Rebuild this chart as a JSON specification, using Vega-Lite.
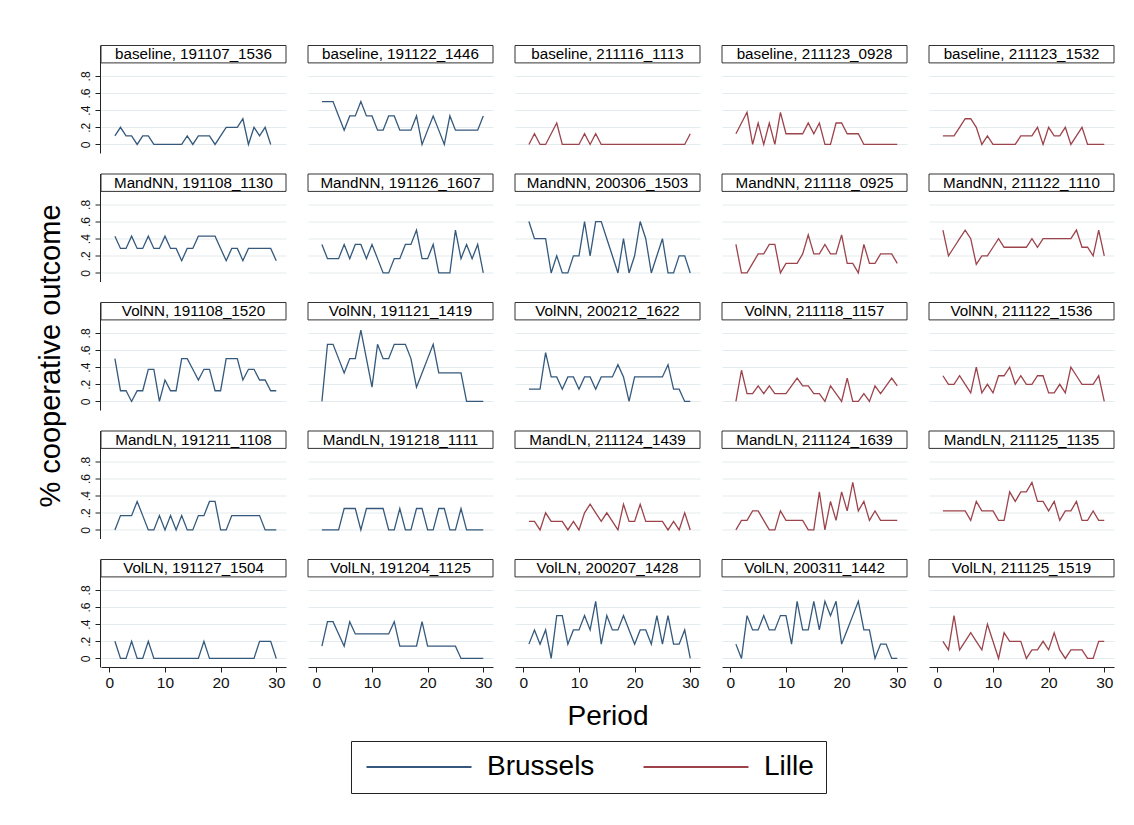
{
  "$schema": "https://vega.github.io/schema/vega-lite/v6.json",
  "padding": {"left": 36, "top": 45, "right": 10, "bottom": 10},
  "background": "white",
  "datasets": {
    "sessions": [
      {"sess": "191107_1536", "trt": "baseline", "city": "Brussels"},
      {"sess": "191122_1446", "trt": "baseline", "city": "Brussels"},
      {"sess": "211116_1113", "trt": "baseline", "city": "Lille"},
      {"sess": "211123_0928", "trt": "baseline", "city": "Lille"},
      {"sess": "211123_1532", "trt": "baseline", "city": "Lille"},
      {"sess": "191108_1130", "trt": "MandNN", "city": "Brussels"},
      {"sess": "191126_1607", "trt": "MandNN", "city": "Brussels"},
      {"sess": "200306_1503", "trt": "MandNN", "city": "Brussels"},
      {"sess": "211118_0925", "trt": "MandNN", "city": "Lille"},
      {"sess": "211122_1110", "trt": "MandNN", "city": "Lille"},
      {"sess": "191108_1520", "trt": "VolNN", "city": "Brussels"},
      {"sess": "191121_1419", "trt": "VolNN", "city": "Brussels"},
      {"sess": "200212_1622", "trt": "VolNN", "city": "Brussels"},
      {"sess": "211118_1157", "trt": "VolNN", "city": "Lille"},
      {"sess": "211122_1536", "trt": "VolNN", "city": "Lille"},
      {"sess": "191211_1108", "trt": "MandLN", "city": "Brussels"},
      {"sess": "191218_1111", "trt": "MandLN", "city": "Brussels"},
      {"sess": "211124_1439", "trt": "MandLN", "city": "Lille"},
      {"sess": "211124_1639", "trt": "MandLN", "city": "Lille"},
      {"sess": "211125_1135", "trt": "MandLN", "city": "Lille"},
      {"sess": "191127_1504", "trt": "VolLN", "city": "Brussels"},
      {"sess": "191204_1125", "trt": "VolLN", "city": "Brussels"},
      {"sess": "200207_1428", "trt": "VolLN", "city": "Brussels"},
      {"sess": "200311_1442", "trt": "VolLN", "city": "Brussels"},
      {"sess": "211125_1519", "trt": "VolLN", "city": "Lille"}
    ],
    "obs": [
      {"sess":"191107_1536","t":1,"v":0.1},{"sess":"191107_1536","t":2,"v":0.2},{"sess":"191107_1536","t":3,"v":0.1},{"sess":"191107_1536","t":4,"v":0.1},{"sess":"191107_1536","t":5,"v":0},{"sess":"191107_1536","t":6,"v":0.1},{"sess":"191107_1536","t":7,"v":0.1},{"sess":"191107_1536","t":8,"v":0},{"sess":"191107_1536","t":9,"v":0},{"sess":"191107_1536","t":10,"v":0},
      {"sess":"191107_1536","t":11,"v":0},{"sess":"191107_1536","t":12,"v":0},{"sess":"191107_1536","t":13,"v":0},{"sess":"191107_1536","t":14,"v":0.1},{"sess":"191107_1536","t":15,"v":0},{"sess":"191107_1536","t":16,"v":0.1},{"sess":"191107_1536","t":17,"v":0.1},{"sess":"191107_1536","t":18,"v":0.1},{"sess":"191107_1536","t":19,"v":0},{"sess":"191107_1536","t":20,"v":0.1},
      {"sess":"191107_1536","t":21,"v":0.2},{"sess":"191107_1536","t":22,"v":0.2},{"sess":"191107_1536","t":23,"v":0.2},{"sess":"191107_1536","t":24,"v":0.3},{"sess":"191107_1536","t":25,"v":0},{"sess":"191107_1536","t":26,"v":0.2},{"sess":"191107_1536","t":27,"v":0.1},{"sess":"191107_1536","t":28,"v":0.2},{"sess":"191107_1536","t":29,"v":0},

      {"sess":"191122_1446","t":1,"v":0.5},{"sess":"191122_1446","t":2,"v":0.5},{"sess":"191122_1446","t":3,"v":0.5},{"sess":"191122_1446","t":4,"v":0.333},{"sess":"191122_1446","t":5,"v":0.167},{"sess":"191122_1446","t":6,"v":0.333},{"sess":"191122_1446","t":7,"v":0.333},{"sess":"191122_1446","t":8,"v":0.5},{"sess":"191122_1446","t":9,"v":0.333},{"sess":"191122_1446","t":10,"v":0.333},
      {"sess":"191122_1446","t":11,"v":0.167},{"sess":"191122_1446","t":12,"v":0.167},{"sess":"191122_1446","t":13,"v":0.333},{"sess":"191122_1446","t":14,"v":0.333},{"sess":"191122_1446","t":15,"v":0.167},{"sess":"191122_1446","t":16,"v":0.167},{"sess":"191122_1446","t":17,"v":0.167},{"sess":"191122_1446","t":18,"v":0.333},{"sess":"191122_1446","t":19,"v":0},{"sess":"191122_1446","t":20,"v":0.167},
      {"sess":"191122_1446","t":21,"v":0.333},{"sess":"191122_1446","t":22,"v":0.167},{"sess":"191122_1446","t":23,"v":0},{"sess":"191122_1446","t":24,"v":0.333},{"sess":"191122_1446","t":25,"v":0.167},{"sess":"191122_1446","t":26,"v":0.167},{"sess":"191122_1446","t":27,"v":0.167},{"sess":"191122_1446","t":28,"v":0.167},{"sess":"191122_1446","t":29,"v":0.167},{"sess":"191122_1446","t":30,"v":0.333},

      {"sess":"211116_1113","t":1,"v":0},{"sess":"211116_1113","t":2,"v":0.125},{"sess":"211116_1113","t":3,"v":0},{"sess":"211116_1113","t":4,"v":0},{"sess":"211116_1113","t":5,"v":0.125},{"sess":"211116_1113","t":6,"v":0.25},{"sess":"211116_1113","t":7,"v":0},{"sess":"211116_1113","t":8,"v":0},{"sess":"211116_1113","t":9,"v":0},{"sess":"211116_1113","t":10,"v":0},
      {"sess":"211116_1113","t":11,"v":0.125},{"sess":"211116_1113","t":12,"v":0},{"sess":"211116_1113","t":13,"v":0.125},{"sess":"211116_1113","t":14,"v":0},{"sess":"211116_1113","t":15,"v":0},{"sess":"211116_1113","t":16,"v":0},{"sess":"211116_1113","t":17,"v":0},{"sess":"211116_1113","t":18,"v":0},{"sess":"211116_1113","t":19,"v":0},{"sess":"211116_1113","t":20,"v":0},
      {"sess":"211116_1113","t":21,"v":0},{"sess":"211116_1113","t":22,"v":0},{"sess":"211116_1113","t":23,"v":0},{"sess":"211116_1113","t":24,"v":0},{"sess":"211116_1113","t":25,"v":0},{"sess":"211116_1113","t":26,"v":0},{"sess":"211116_1113","t":27,"v":0},{"sess":"211116_1113","t":28,"v":0},{"sess":"211116_1113","t":29,"v":0},{"sess":"211116_1113","t":30,"v":0.125},

      {"sess":"211123_0928","t":1,"v":0.125},{"sess":"211123_0928","t":2,"v":0.25},{"sess":"211123_0928","t":3,"v":0.375},{"sess":"211123_0928","t":4,"v":0},{"sess":"211123_0928","t":5,"v":0.25},{"sess":"211123_0928","t":6,"v":0},{"sess":"211123_0928","t":7,"v":0.25},{"sess":"211123_0928","t":8,"v":0},{"sess":"211123_0928","t":9,"v":0.375},{"sess":"211123_0928","t":10,"v":0.125},
      {"sess":"211123_0928","t":11,"v":0.125},{"sess":"211123_0928","t":12,"v":0.125},{"sess":"211123_0928","t":13,"v":0.125},{"sess":"211123_0928","t":14,"v":0.25},{"sess":"211123_0928","t":15,"v":0.125},{"sess":"211123_0928","t":16,"v":0.25},{"sess":"211123_0928","t":17,"v":0},{"sess":"211123_0928","t":18,"v":0},{"sess":"211123_0928","t":19,"v":0.25},{"sess":"211123_0928","t":20,"v":0.25},
      {"sess":"211123_0928","t":21,"v":0.125},{"sess":"211123_0928","t":22,"v":0.125},{"sess":"211123_0928","t":23,"v":0.125},{"sess":"211123_0928","t":24,"v":0},{"sess":"211123_0928","t":25,"v":0},{"sess":"211123_0928","t":26,"v":0},{"sess":"211123_0928","t":27,"v":0},{"sess":"211123_0928","t":28,"v":0},{"sess":"211123_0928","t":29,"v":0},{"sess":"211123_0928","t":30,"v":0},

      {"sess":"211123_1532","t":1,"v":0.1},{"sess":"211123_1532","t":2,"v":0.1},{"sess":"211123_1532","t":3,"v":0.1},{"sess":"211123_1532","t":4,"v":0.2},{"sess":"211123_1532","t":5,"v":0.3},{"sess":"211123_1532","t":6,"v":0.3},{"sess":"211123_1532","t":7,"v":0.2},{"sess":"211123_1532","t":8,"v":0},{"sess":"211123_1532","t":9,"v":0.1},{"sess":"211123_1532","t":10,"v":0},
      {"sess":"211123_1532","t":11,"v":0},{"sess":"211123_1532","t":12,"v":0},{"sess":"211123_1532","t":13,"v":0},{"sess":"211123_1532","t":14,"v":0},{"sess":"211123_1532","t":15,"v":0.1},{"sess":"211123_1532","t":16,"v":0.1},{"sess":"211123_1532","t":17,"v":0.1},{"sess":"211123_1532","t":18,"v":0.2},{"sess":"211123_1532","t":19,"v":0},{"sess":"211123_1532","t":20,"v":0.2},
      {"sess":"211123_1532","t":21,"v":0.1},{"sess":"211123_1532","t":22,"v":0.1},{"sess":"211123_1532","t":23,"v":0.2},{"sess":"211123_1532","t":24,"v":0},{"sess":"211123_1532","t":25,"v":0.1},{"sess":"211123_1532","t":26,"v":0.2},{"sess":"211123_1532","t":27,"v":0},{"sess":"211123_1532","t":28,"v":0},{"sess":"211123_1532","t":29,"v":0},{"sess":"211123_1532","t":30,"v":0},

      {"sess":"191108_1130","t":1,"v":0.429},{"sess":"191108_1130","t":2,"v":0.286},{"sess":"191108_1130","t":3,"v":0.286},{"sess":"191108_1130","t":4,"v":0.429},{"sess":"191108_1130","t":5,"v":0.286},{"sess":"191108_1130","t":6,"v":0.286},{"sess":"191108_1130","t":7,"v":0.429},{"sess":"191108_1130","t":8,"v":0.286},{"sess":"191108_1130","t":9,"v":0.286},{"sess":"191108_1130","t":10,"v":0.429},
      {"sess":"191108_1130","t":11,"v":0.286},{"sess":"191108_1130","t":12,"v":0.286},{"sess":"191108_1130","t":13,"v":0.143},{"sess":"191108_1130","t":14,"v":0.286},{"sess":"191108_1130","t":15,"v":0.286},{"sess":"191108_1130","t":16,"v":0.429},{"sess":"191108_1130","t":17,"v":0.429},{"sess":"191108_1130","t":18,"v":0.429},{"sess":"191108_1130","t":19,"v":0.429},{"sess":"191108_1130","t":20,"v":0.286},
      {"sess":"191108_1130","t":21,"v":0.143},{"sess":"191108_1130","t":22,"v":0.286},{"sess":"191108_1130","t":23,"v":0.286},{"sess":"191108_1130","t":24,"v":0.143},{"sess":"191108_1130","t":25,"v":0.286},{"sess":"191108_1130","t":26,"v":0.286},{"sess":"191108_1130","t":27,"v":0.286},{"sess":"191108_1130","t":28,"v":0.286},{"sess":"191108_1130","t":29,"v":0.286},{"sess":"191108_1130","t":30,"v":0.143},

      {"sess":"191126_1607","t":1,"v":0.333},{"sess":"191126_1607","t":2,"v":0.167},{"sess":"191126_1607","t":3,"v":0.167},{"sess":"191126_1607","t":4,"v":0.167},{"sess":"191126_1607","t":5,"v":0.333},{"sess":"191126_1607","t":6,"v":0.167},{"sess":"191126_1607","t":7,"v":0.333},{"sess":"191126_1607","t":8,"v":0.333},{"sess":"191126_1607","t":9,"v":0.167},{"sess":"191126_1607","t":10,"v":0.333},
      {"sess":"191126_1607","t":11,"v":0.167},{"sess":"191126_1607","t":12,"v":0},{"sess":"191126_1607","t":13,"v":0},{"sess":"191126_1607","t":14,"v":0.167},{"sess":"191126_1607","t":15,"v":0.167},{"sess":"191126_1607","t":16,"v":0.333},{"sess":"191126_1607","t":17,"v":0.333},{"sess":"191126_1607","t":18,"v":0.5},{"sess":"191126_1607","t":19,"v":0.167},{"sess":"191126_1607","t":20,"v":0.167},
      {"sess":"191126_1607","t":21,"v":0.333},{"sess":"191126_1607","t":22,"v":0},{"sess":"191126_1607","t":23,"v":0},{"sess":"191126_1607","t":24,"v":0},{"sess":"191126_1607","t":25,"v":0.5},{"sess":"191126_1607","t":26,"v":0.167},{"sess":"191126_1607","t":27,"v":0.333},{"sess":"191126_1607","t":28,"v":0.167},{"sess":"191126_1607","t":29,"v":0.333},{"sess":"191126_1607","t":30,"v":0},

      {"sess":"200306_1503","t":1,"v":0.6},{"sess":"200306_1503","t":2,"v":0.4},{"sess":"200306_1503","t":3,"v":0.4},{"sess":"200306_1503","t":4,"v":0.4},{"sess":"200306_1503","t":5,"v":0},{"sess":"200306_1503","t":6,"v":0.2},{"sess":"200306_1503","t":7,"v":0},{"sess":"200306_1503","t":8,"v":0},{"sess":"200306_1503","t":9,"v":0.2},{"sess":"200306_1503","t":10,"v":0.2},
      {"sess":"200306_1503","t":11,"v":0.6},{"sess":"200306_1503","t":12,"v":0.2},{"sess":"200306_1503","t":13,"v":0.6},{"sess":"200306_1503","t":14,"v":0.6},{"sess":"200306_1503","t":15,"v":0.4},{"sess":"200306_1503","t":16,"v":0.2},{"sess":"200306_1503","t":17,"v":0},{"sess":"200306_1503","t":18,"v":0.4},{"sess":"200306_1503","t":19,"v":0},{"sess":"200306_1503","t":20,"v":0.2},
      {"sess":"200306_1503","t":21,"v":0.6},{"sess":"200306_1503","t":22,"v":0.4},{"sess":"200306_1503","t":23,"v":0},{"sess":"200306_1503","t":24,"v":0.2},{"sess":"200306_1503","t":25,"v":0.4},{"sess":"200306_1503","t":26,"v":0},{"sess":"200306_1503","t":27,"v":0},{"sess":"200306_1503","t":28,"v":0.2},{"sess":"200306_1503","t":29,"v":0.2},{"sess":"200306_1503","t":30,"v":0},

      {"sess":"211118_0925","t":1,"v":0.333},{"sess":"211118_0925","t":2,"v":0},{"sess":"211118_0925","t":3,"v":0},{"sess":"211118_0925","t":4,"v":0.111},{"sess":"211118_0925","t":5,"v":0.222},{"sess":"211118_0925","t":6,"v":0.222},{"sess":"211118_0925","t":7,"v":0.333},{"sess":"211118_0925","t":8,"v":0.333},{"sess":"211118_0925","t":9,"v":0},{"sess":"211118_0925","t":10,"v":0.111},
      {"sess":"211118_0925","t":11,"v":0.111},{"sess":"211118_0925","t":12,"v":0.111},{"sess":"211118_0925","t":13,"v":0.222},{"sess":"211118_0925","t":14,"v":0.444},{"sess":"211118_0925","t":15,"v":0.222},{"sess":"211118_0925","t":16,"v":0.222},{"sess":"211118_0925","t":17,"v":0.333},{"sess":"211118_0925","t":18,"v":0.222},{"sess":"211118_0925","t":19,"v":0.222},{"sess":"211118_0925","t":20,"v":0.444},
      {"sess":"211118_0925","t":21,"v":0.111},{"sess":"211118_0925","t":22,"v":0.111},{"sess":"211118_0925","t":23,"v":0},{"sess":"211118_0925","t":24,"v":0.333},{"sess":"211118_0925","t":25,"v":0.111},{"sess":"211118_0925","t":26,"v":0.111},{"sess":"211118_0925","t":27,"v":0.222},{"sess":"211118_0925","t":28,"v":0.222},{"sess":"211118_0925","t":29,"v":0.222},{"sess":"211118_0925","t":30,"v":0.111},

      {"sess":"211122_1110","t":1,"v":0.5},{"sess":"211122_1110","t":2,"v":0.2},{"sess":"211122_1110","t":3,"v":0.3},{"sess":"211122_1110","t":4,"v":0.4},{"sess":"211122_1110","t":5,"v":0.5},{"sess":"211122_1110","t":6,"v":0.4},{"sess":"211122_1110","t":7,"v":0.1},{"sess":"211122_1110","t":8,"v":0.2},{"sess":"211122_1110","t":9,"v":0.2},{"sess":"211122_1110","t":10,"v":0.3},
      {"sess":"211122_1110","t":11,"v":0.4},{"sess":"211122_1110","t":12,"v":0.3},{"sess":"211122_1110","t":13,"v":0.3},{"sess":"211122_1110","t":14,"v":0.3},{"sess":"211122_1110","t":15,"v":0.3},{"sess":"211122_1110","t":16,"v":0.3},{"sess":"211122_1110","t":17,"v":0.4},{"sess":"211122_1110","t":18,"v":0.3},{"sess":"211122_1110","t":19,"v":0.4},{"sess":"211122_1110","t":20,"v":0.4},
      {"sess":"211122_1110","t":21,"v":0.4},{"sess":"211122_1110","t":22,"v":0.4},{"sess":"211122_1110","t":23,"v":0.4},{"sess":"211122_1110","t":24,"v":0.4},{"sess":"211122_1110","t":25,"v":0.5},{"sess":"211122_1110","t":26,"v":0.3},{"sess":"211122_1110","t":27,"v":0.3},{"sess":"211122_1110","t":28,"v":0.2},{"sess":"211122_1110","t":29,"v":0.5},{"sess":"211122_1110","t":30,"v":0.2},

      {"sess":"191108_1520","t":1,"v":0.5},{"sess":"191108_1520","t":2,"v":0.125},{"sess":"191108_1520","t":3,"v":0.125},{"sess":"191108_1520","t":4,"v":0},{"sess":"191108_1520","t":5,"v":0.125},{"sess":"191108_1520","t":6,"v":0.125},{"sess":"191108_1520","t":7,"v":0.375},{"sess":"191108_1520","t":8,"v":0.375},{"sess":"191108_1520","t":9,"v":0},{"sess":"191108_1520","t":10,"v":0.25},
      {"sess":"191108_1520","t":11,"v":0.125},{"sess":"191108_1520","t":12,"v":0.125},{"sess":"191108_1520","t":13,"v":0.5},{"sess":"191108_1520","t":14,"v":0.5},{"sess":"191108_1520","t":15,"v":0.375},{"sess":"191108_1520","t":16,"v":0.25},{"sess":"191108_1520","t":17,"v":0.375},{"sess":"191108_1520","t":18,"v":0.375},{"sess":"191108_1520","t":19,"v":0.125},{"sess":"191108_1520","t":20,"v":0.125},
      {"sess":"191108_1520","t":21,"v":0.5},{"sess":"191108_1520","t":22,"v":0.5},{"sess":"191108_1520","t":23,"v":0.5},{"sess":"191108_1520","t":24,"v":0.25},{"sess":"191108_1520","t":25,"v":0.375},{"sess":"191108_1520","t":26,"v":0.375},{"sess":"191108_1520","t":27,"v":0.25},{"sess":"191108_1520","t":28,"v":0.25},{"sess":"191108_1520","t":29,"v":0.125},{"sess":"191108_1520","t":30,"v":0.125},

      {"sess":"191121_1419","t":1,"v":0},{"sess":"191121_1419","t":2,"v":0.667},{"sess":"191121_1419","t":3,"v":0.667},{"sess":"191121_1419","t":4,"v":0.5},{"sess":"191121_1419","t":5,"v":0.333},{"sess":"191121_1419","t":6,"v":0.5},{"sess":"191121_1419","t":7,"v":0.5},{"sess":"191121_1419","t":8,"v":0.833},{"sess":"191121_1419","t":9,"v":0.5},{"sess":"191121_1419","t":10,"v":0.167},
      {"sess":"191121_1419","t":11,"v":0.667},{"sess":"191121_1419","t":12,"v":0.5},{"sess":"191121_1419","t":13,"v":0.5},{"sess":"191121_1419","t":14,"v":0.667},{"sess":"191121_1419","t":15,"v":0.667},{"sess":"191121_1419","t":16,"v":0.667},{"sess":"191121_1419","t":17,"v":0.5},{"sess":"191121_1419","t":18,"v":0.167},{"sess":"191121_1419","t":19,"v":0.333},{"sess":"191121_1419","t":20,"v":0.5},
      {"sess":"191121_1419","t":21,"v":0.667},{"sess":"191121_1419","t":22,"v":0.333},{"sess":"191121_1419","t":23,"v":0.333},{"sess":"191121_1419","t":24,"v":0.333},{"sess":"191121_1419","t":25,"v":0.333},{"sess":"191121_1419","t":26,"v":0.333},{"sess":"191121_1419","t":27,"v":0},{"sess":"191121_1419","t":28,"v":0},{"sess":"191121_1419","t":29,"v":0},{"sess":"191121_1419","t":30,"v":0},

      {"sess":"200212_1622","t":1,"v":0.143},{"sess":"200212_1622","t":2,"v":0.143},{"sess":"200212_1622","t":3,"v":0.143},{"sess":"200212_1622","t":4,"v":0.571},{"sess":"200212_1622","t":5,"v":0.286},{"sess":"200212_1622","t":6,"v":0.286},{"sess":"200212_1622","t":7,"v":0.143},{"sess":"200212_1622","t":8,"v":0.286},{"sess":"200212_1622","t":9,"v":0.286},{"sess":"200212_1622","t":10,"v":0.143},
      {"sess":"200212_1622","t":11,"v":0.286},{"sess":"200212_1622","t":12,"v":0.286},{"sess":"200212_1622","t":13,"v":0.143},{"sess":"200212_1622","t":14,"v":0.286},{"sess":"200212_1622","t":15,"v":0.286},{"sess":"200212_1622","t":16,"v":0.286},{"sess":"200212_1622","t":17,"v":0.429},{"sess":"200212_1622","t":18,"v":0.286},{"sess":"200212_1622","t":19,"v":0},{"sess":"200212_1622","t":20,"v":0.286},
      {"sess":"200212_1622","t":21,"v":0.286},{"sess":"200212_1622","t":22,"v":0.286},{"sess":"200212_1622","t":23,"v":0.286},{"sess":"200212_1622","t":24,"v":0.286},{"sess":"200212_1622","t":25,"v":0.286},{"sess":"200212_1622","t":26,"v":0.429},{"sess":"200212_1622","t":27,"v":0.143},{"sess":"200212_1622","t":28,"v":0.143},{"sess":"200212_1622","t":29,"v":0},{"sess":"200212_1622","t":30,"v":0},

      {"sess":"211118_1157","t":1,"v":0},{"sess":"211118_1157","t":2,"v":0.364},{"sess":"211118_1157","t":3,"v":0.091},{"sess":"211118_1157","t":4,"v":0.091},{"sess":"211118_1157","t":5,"v":0.182},{"sess":"211118_1157","t":6,"v":0.091},{"sess":"211118_1157","t":7,"v":0.182},{"sess":"211118_1157","t":8,"v":0.091},{"sess":"211118_1157","t":9,"v":0.091},{"sess":"211118_1157","t":10,"v":0.091},
      {"sess":"211118_1157","t":11,"v":0.182},{"sess":"211118_1157","t":12,"v":0.273},{"sess":"211118_1157","t":13,"v":0.182},{"sess":"211118_1157","t":14,"v":0.182},{"sess":"211118_1157","t":15,"v":0.091},{"sess":"211118_1157","t":16,"v":0.091},{"sess":"211118_1157","t":17,"v":0},{"sess":"211118_1157","t":18,"v":0.182},{"sess":"211118_1157","t":19,"v":0.091},{"sess":"211118_1157","t":20,"v":0},
      {"sess":"211118_1157","t":21,"v":0.273},{"sess":"211118_1157","t":22,"v":0},{"sess":"211118_1157","t":23,"v":0},{"sess":"211118_1157","t":24,"v":0.091},{"sess":"211118_1157","t":25,"v":0},{"sess":"211118_1157","t":26,"v":0.182},{"sess":"211118_1157","t":27,"v":0.091},{"sess":"211118_1157","t":28,"v":0.182},{"sess":"211118_1157","t":29,"v":0.273},{"sess":"211118_1157","t":30,"v":0.182},

      {"sess":"211122_1536","t":1,"v":0.3},{"sess":"211122_1536","t":2,"v":0.2},{"sess":"211122_1536","t":3,"v":0.2},{"sess":"211122_1536","t":4,"v":0.3},{"sess":"211122_1536","t":5,"v":0.2},{"sess":"211122_1536","t":6,"v":0.1},{"sess":"211122_1536","t":7,"v":0.4},{"sess":"211122_1536","t":8,"v":0.1},{"sess":"211122_1536","t":9,"v":0.2},{"sess":"211122_1536","t":10,"v":0.1},
      {"sess":"211122_1536","t":11,"v":0.3},{"sess":"211122_1536","t":12,"v":0.3},{"sess":"211122_1536","t":13,"v":0.4},{"sess":"211122_1536","t":14,"v":0.2},{"sess":"211122_1536","t":15,"v":0.3},{"sess":"211122_1536","t":16,"v":0.2},{"sess":"211122_1536","t":17,"v":0.2},{"sess":"211122_1536","t":18,"v":0.3},{"sess":"211122_1536","t":19,"v":0.3},{"sess":"211122_1536","t":20,"v":0.1},
      {"sess":"211122_1536","t":21,"v":0.1},{"sess":"211122_1536","t":22,"v":0.2},{"sess":"211122_1536","t":23,"v":0.1},{"sess":"211122_1536","t":24,"v":0.4},{"sess":"211122_1536","t":25,"v":0.3},{"sess":"211122_1536","t":26,"v":0.2},{"sess":"211122_1536","t":27,"v":0.2},{"sess":"211122_1536","t":28,"v":0.2},{"sess":"211122_1536","t":29,"v":0.3},{"sess":"211122_1536","t":30,"v":0},

      {"sess":"191211_1108","t":1,"v":0},{"sess":"191211_1108","t":2,"v":0.167},{"sess":"191211_1108","t":3,"v":0.167},{"sess":"191211_1108","t":4,"v":0.167},{"sess":"191211_1108","t":5,"v":0.333},{"sess":"191211_1108","t":6,"v":0.167},{"sess":"191211_1108","t":7,"v":0},{"sess":"191211_1108","t":8,"v":0},{"sess":"191211_1108","t":9,"v":0.167},{"sess":"191211_1108","t":10,"v":0},
      {"sess":"191211_1108","t":11,"v":0.167},{"sess":"191211_1108","t":12,"v":0},{"sess":"191211_1108","t":13,"v":0.167},{"sess":"191211_1108","t":14,"v":0},{"sess":"191211_1108","t":15,"v":0},{"sess":"191211_1108","t":16,"v":0.167},{"sess":"191211_1108","t":17,"v":0.167},{"sess":"191211_1108","t":18,"v":0.333},{"sess":"191211_1108","t":19,"v":0.333},{"sess":"191211_1108","t":20,"v":0},
      {"sess":"191211_1108","t":21,"v":0},{"sess":"191211_1108","t":22,"v":0.167},{"sess":"191211_1108","t":23,"v":0.167},{"sess":"191211_1108","t":24,"v":0.167},{"sess":"191211_1108","t":25,"v":0.167},{"sess":"191211_1108","t":26,"v":0.167},{"sess":"191211_1108","t":27,"v":0.167},{"sess":"191211_1108","t":28,"v":0},{"sess":"191211_1108","t":29,"v":0},{"sess":"191211_1108","t":30,"v":0},

      {"sess":"191218_1111","t":1,"v":0},{"sess":"191218_1111","t":2,"v":0},{"sess":"191218_1111","t":3,"v":0},{"sess":"191218_1111","t":4,"v":0},{"sess":"191218_1111","t":5,"v":0.25},{"sess":"191218_1111","t":6,"v":0.25},{"sess":"191218_1111","t":7,"v":0.25},{"sess":"191218_1111","t":8,"v":0},{"sess":"191218_1111","t":9,"v":0.25},{"sess":"191218_1111","t":10,"v":0.25},
      {"sess":"191218_1111","t":11,"v":0.25},{"sess":"191218_1111","t":12,"v":0.25},{"sess":"191218_1111","t":13,"v":0},{"sess":"191218_1111","t":14,"v":0},{"sess":"191218_1111","t":15,"v":0.25},{"sess":"191218_1111","t":16,"v":0},{"sess":"191218_1111","t":17,"v":0},{"sess":"191218_1111","t":18,"v":0.25},{"sess":"191218_1111","t":19,"v":0.25},{"sess":"191218_1111","t":20,"v":0},
      {"sess":"191218_1111","t":21,"v":0},{"sess":"191218_1111","t":22,"v":0.25},{"sess":"191218_1111","t":23,"v":0.25},{"sess":"191218_1111","t":24,"v":0},{"sess":"191218_1111","t":25,"v":0},{"sess":"191218_1111","t":26,"v":0.25},{"sess":"191218_1111","t":27,"v":0},{"sess":"191218_1111","t":28,"v":0},{"sess":"191218_1111","t":29,"v":0},{"sess":"191218_1111","t":30,"v":0},

      {"sess":"211124_1439","t":1,"v":0.1},{"sess":"211124_1439","t":2,"v":0.1},{"sess":"211124_1439","t":3,"v":0},{"sess":"211124_1439","t":4,"v":0.2},{"sess":"211124_1439","t":5,"v":0.1},{"sess":"211124_1439","t":6,"v":0.1},{"sess":"211124_1439","t":7,"v":0.1},{"sess":"211124_1439","t":8,"v":0},{"sess":"211124_1439","t":9,"v":0.1},{"sess":"211124_1439","t":10,"v":0},
      {"sess":"211124_1439","t":11,"v":0.2},{"sess":"211124_1439","t":12,"v":0.3},{"sess":"211124_1439","t":13,"v":0.2},{"sess":"211124_1439","t":14,"v":0.1},{"sess":"211124_1439","t":15,"v":0.2},{"sess":"211124_1439","t":16,"v":0.1},{"sess":"211124_1439","t":17,"v":0},{"sess":"211124_1439","t":18,"v":0.3},{"sess":"211124_1439","t":19,"v":0.1},{"sess":"211124_1439","t":20,"v":0.1},
      {"sess":"211124_1439","t":21,"v":0.3},{"sess":"211124_1439","t":22,"v":0.1},{"sess":"211124_1439","t":23,"v":0.1},{"sess":"211124_1439","t":24,"v":0.1},{"sess":"211124_1439","t":25,"v":0.1},{"sess":"211124_1439","t":26,"v":0},{"sess":"211124_1439","t":27,"v":0.1},{"sess":"211124_1439","t":28,"v":0},{"sess":"211124_1439","t":29,"v":0.2},{"sess":"211124_1439","t":30,"v":0},

      {"sess":"211124_1639","t":1,"v":0},{"sess":"211124_1639","t":2,"v":0.111},{"sess":"211124_1639","t":3,"v":0.111},{"sess":"211124_1639","t":4,"v":0.222},{"sess":"211124_1639","t":5,"v":0.222},{"sess":"211124_1639","t":6,"v":0.111},{"sess":"211124_1639","t":7,"v":0},{"sess":"211124_1639","t":8,"v":0},{"sess":"211124_1639","t":9,"v":0.222},{"sess":"211124_1639","t":10,"v":0.111},
      {"sess":"211124_1639","t":11,"v":0.111},{"sess":"211124_1639","t":12,"v":0.111},{"sess":"211124_1639","t":13,"v":0.111},{"sess":"211124_1639","t":14,"v":0},{"sess":"211124_1639","t":15,"v":0},{"sess":"211124_1639","t":16,"v":0.444},{"sess":"211124_1639","t":17,"v":0},{"sess":"211124_1639","t":18,"v":0.333},{"sess":"211124_1639","t":19,"v":0.111},{"sess":"211124_1639","t":20,"v":0.444},
      {"sess":"211124_1639","t":21,"v":0.222},{"sess":"211124_1639","t":22,"v":0.556},{"sess":"211124_1639","t":23,"v":0.222},{"sess":"211124_1639","t":24,"v":0.333},{"sess":"211124_1639","t":25,"v":0.111},{"sess":"211124_1639","t":26,"v":0.222},{"sess":"211124_1639","t":27,"v":0.111},{"sess":"211124_1639","t":28,"v":0.111},{"sess":"211124_1639","t":29,"v":0.111},{"sess":"211124_1639","t":30,"v":0.111},

      {"sess":"211125_1135","t":1,"v":0.222},{"sess":"211125_1135","t":2,"v":0.222},{"sess":"211125_1135","t":3,"v":0.222},{"sess":"211125_1135","t":4,"v":0.222},{"sess":"211125_1135","t":5,"v":0.222},{"sess":"211125_1135","t":6,"v":0.111},{"sess":"211125_1135","t":7,"v":0.333},{"sess":"211125_1135","t":8,"v":0.222},{"sess":"211125_1135","t":9,"v":0.222},{"sess":"211125_1135","t":10,"v":0.222},
      {"sess":"211125_1135","t":11,"v":0.111},{"sess":"211125_1135","t":12,"v":0.111},{"sess":"211125_1135","t":13,"v":0.444},{"sess":"211125_1135","t":14,"v":0.333},{"sess":"211125_1135","t":15,"v":0.444},{"sess":"211125_1135","t":16,"v":0.444},{"sess":"211125_1135","t":17,"v":0.556},{"sess":"211125_1135","t":18,"v":0.333},{"sess":"211125_1135","t":19,"v":0.333},{"sess":"211125_1135","t":20,"v":0.222},
      {"sess":"211125_1135","t":21,"v":0.333},{"sess":"211125_1135","t":22,"v":0.111},{"sess":"211125_1135","t":23,"v":0.222},{"sess":"211125_1135","t":24,"v":0.222},{"sess":"211125_1135","t":25,"v":0.333},{"sess":"211125_1135","t":26,"v":0.111},{"sess":"211125_1135","t":27,"v":0.111},{"sess":"211125_1135","t":28,"v":0.222},{"sess":"211125_1135","t":29,"v":0.111},{"sess":"211125_1135","t":30,"v":0.111},

      {"sess":"191127_1504","t":1,"v":0.2},{"sess":"191127_1504","t":2,"v":0},{"sess":"191127_1504","t":3,"v":0},{"sess":"191127_1504","t":4,"v":0.2},{"sess":"191127_1504","t":5,"v":0},{"sess":"191127_1504","t":6,"v":0},{"sess":"191127_1504","t":7,"v":0.2},{"sess":"191127_1504","t":8,"v":0},{"sess":"191127_1504","t":9,"v":0},{"sess":"191127_1504","t":10,"v":0},
      {"sess":"191127_1504","t":11,"v":0},{"sess":"191127_1504","t":12,"v":0},{"sess":"191127_1504","t":13,"v":0},{"sess":"191127_1504","t":14,"v":0},{"sess":"191127_1504","t":15,"v":0},{"sess":"191127_1504","t":16,"v":0},{"sess":"191127_1504","t":17,"v":0.2},{"sess":"191127_1504","t":18,"v":0},{"sess":"191127_1504","t":19,"v":0},{"sess":"191127_1504","t":20,"v":0},
      {"sess":"191127_1504","t":21,"v":0},{"sess":"191127_1504","t":22,"v":0},{"sess":"191127_1504","t":23,"v":0},{"sess":"191127_1504","t":24,"v":0},{"sess":"191127_1504","t":25,"v":0},{"sess":"191127_1504","t":26,"v":0},{"sess":"191127_1504","t":27,"v":0.2},{"sess":"191127_1504","t":28,"v":0.2},{"sess":"191127_1504","t":29,"v":0.2},{"sess":"191127_1504","t":30,"v":0},

      {"sess":"191204_1125","t":1,"v":0.143},{"sess":"191204_1125","t":2,"v":0.429},{"sess":"191204_1125","t":3,"v":0.429},{"sess":"191204_1125","t":4,"v":0.286},{"sess":"191204_1125","t":5,"v":0.143},{"sess":"191204_1125","t":6,"v":0.429},{"sess":"191204_1125","t":7,"v":0.286},{"sess":"191204_1125","t":8,"v":0.286},{"sess":"191204_1125","t":9,"v":0.286},{"sess":"191204_1125","t":10,"v":0.286},
      {"sess":"191204_1125","t":11,"v":0.286},{"sess":"191204_1125","t":12,"v":0.286},{"sess":"191204_1125","t":13,"v":0.286},{"sess":"191204_1125","t":14,"v":0.429},{"sess":"191204_1125","t":15,"v":0.143},{"sess":"191204_1125","t":16,"v":0.143},{"sess":"191204_1125","t":17,"v":0.143},{"sess":"191204_1125","t":18,"v":0.143},{"sess":"191204_1125","t":19,"v":0.429},{"sess":"191204_1125","t":20,"v":0.143},
      {"sess":"191204_1125","t":21,"v":0.143},{"sess":"191204_1125","t":22,"v":0.143},{"sess":"191204_1125","t":23,"v":0.143},{"sess":"191204_1125","t":24,"v":0.143},{"sess":"191204_1125","t":25,"v":0.143},{"sess":"191204_1125","t":26,"v":0},{"sess":"191204_1125","t":27,"v":0},{"sess":"191204_1125","t":28,"v":0},{"sess":"191204_1125","t":29,"v":0},{"sess":"191204_1125","t":30,"v":0},

      {"sess":"200207_1428","t":1,"v":0.167},{"sess":"200207_1428","t":2,"v":0.333},{"sess":"200207_1428","t":3,"v":0.167},{"sess":"200207_1428","t":4,"v":0.333},{"sess":"200207_1428","t":5,"v":0},{"sess":"200207_1428","t":6,"v":0.5},{"sess":"200207_1428","t":7,"v":0.5},{"sess":"200207_1428","t":8,"v":0.167},{"sess":"200207_1428","t":9,"v":0.333},{"sess":"200207_1428","t":10,"v":0.333},
      {"sess":"200207_1428","t":11,"v":0.5},{"sess":"200207_1428","t":12,"v":0.333},{"sess":"200207_1428","t":13,"v":0.667},{"sess":"200207_1428","t":14,"v":0.167},{"sess":"200207_1428","t":15,"v":0.5},{"sess":"200207_1428","t":16,"v":0.333},{"sess":"200207_1428","t":17,"v":0.333},{"sess":"200207_1428","t":18,"v":0.5},{"sess":"200207_1428","t":19,"v":0.333},{"sess":"200207_1428","t":20,"v":0.167},
      {"sess":"200207_1428","t":21,"v":0.333},{"sess":"200207_1428","t":22,"v":0.333},{"sess":"200207_1428","t":23,"v":0.167},{"sess":"200207_1428","t":24,"v":0.5},{"sess":"200207_1428","t":25,"v":0.167},{"sess":"200207_1428","t":26,"v":0.5},{"sess":"200207_1428","t":27,"v":0.167},{"sess":"200207_1428","t":28,"v":0.167},{"sess":"200207_1428","t":29,"v":0.333},{"sess":"200207_1428","t":30,"v":0},

      {"sess":"200311_1442","t":1,"v":0.167},{"sess":"200311_1442","t":2,"v":0},{"sess":"200311_1442","t":3,"v":0.5},{"sess":"200311_1442","t":4,"v":0.333},{"sess":"200311_1442","t":5,"v":0.333},{"sess":"200311_1442","t":6,"v":0.5},{"sess":"200311_1442","t":7,"v":0.333},{"sess":"200311_1442","t":8,"v":0.333},{"sess":"200311_1442","t":9,"v":0.5},{"sess":"200311_1442","t":10,"v":0.5},
      {"sess":"200311_1442","t":11,"v":0.167},{"sess":"200311_1442","t":12,"v":0.667},{"sess":"200311_1442","t":13,"v":0.333},{"sess":"200311_1442","t":14,"v":0.333},{"sess":"200311_1442","t":15,"v":0.667},{"sess":"200311_1442","t":16,"v":0.333},{"sess":"200311_1442","t":17,"v":0.667},{"sess":"200311_1442","t":18,"v":0.5},{"sess":"200311_1442","t":19,"v":0.667},{"sess":"200311_1442","t":20,"v":0.167},
      {"sess":"200311_1442","t":21,"v":0.333},{"sess":"200311_1442","t":22,"v":0.5},{"sess":"200311_1442","t":23,"v":0.667},{"sess":"200311_1442","t":24,"v":0.333},{"sess":"200311_1442","t":25,"v":0.333},{"sess":"200311_1442","t":26,"v":0},{"sess":"200311_1442","t":27,"v":0.167},{"sess":"200311_1442","t":28,"v":0.167},{"sess":"200311_1442","t":29,"v":0},{"sess":"200311_1442","t":30,"v":0},

      {"sess":"211125_1519","t":1,"v":0.2},{"sess":"211125_1519","t":2,"v":0.1},{"sess":"211125_1519","t":3,"v":0.5},{"sess":"211125_1519","t":4,"v":0.1},{"sess":"211125_1519","t":5,"v":0.2},{"sess":"211125_1519","t":6,"v":0.3},{"sess":"211125_1519","t":7,"v":0.2},{"sess":"211125_1519","t":8,"v":0.1},{"sess":"211125_1519","t":9,"v":0.4},{"sess":"211125_1519","t":10,"v":0.2},
      {"sess":"211125_1519","t":11,"v":0},{"sess":"211125_1519","t":12,"v":0.3},{"sess":"211125_1519","t":13,"v":0.2},{"sess":"211125_1519","t":14,"v":0.2},{"sess":"211125_1519","t":15,"v":0.2},{"sess":"211125_1519","t":16,"v":0},{"sess":"211125_1519","t":17,"v":0.1},{"sess":"211125_1519","t":18,"v":0.1},{"sess":"211125_1519","t":19,"v":0.2},{"sess":"211125_1519","t":20,"v":0.1},
      {"sess":"211125_1519","t":21,"v":0.3},{"sess":"211125_1519","t":22,"v":0.1},{"sess":"211125_1519","t":23,"v":0},{"sess":"211125_1519","t":24,"v":0.1},{"sess":"211125_1519","t":25,"v":0.1},{"sess":"211125_1519","t":26,"v":0.1},{"sess":"211125_1519","t":27,"v":0},{"sess":"211125_1519","t":28,"v":0},{"sess":"211125_1519","t":29,"v":0.2},{"sess":"211125_1519","t":30,"v":0.2}
    ]
  },
  "data": {"name": "obs"},
  "transform": [
    {"lookup": "sess", "from": {"data": {"name": "sessions"}, "key": "sess", "fields": ["trt", "city"]}},
    {"window": [{"op": "dense_rank", "as": "col"}], "sort": [{"field": "sess"}], "groupby": ["trt"]},
    {"calculate": "datum.trt + ', ' + datum.sess", "as": "label"}
  ],
  "facet": {
    "row": {
      "field": "trt", "type": "nominal",
      "sort": ["baseline", "MandNN", "VolNN", "MandLN", "VolLN"],
      "header": {"labels": false, "title": "% cooperative outcome", "titleOrient": "left", "titleFontSize": 29, "titleFontWeight": "normal", "titleColor": "#000", "titlePadding": 3}
    },
    "column": {
      "field": "col", "type": "ordinal",
      "header": {"labels": false, "title": "Period", "titleOrient": "bottom", "titleFontSize": 28, "titleFontWeight": "normal", "titleColor": "#000", "titlePadding": 2}
    }
  },
  "spacing": {"row": 20.5, "column": 20},
  "spec": {
    "width": 185,
    "height": 108,
    "layer": [
      {
        "mark": {"type": "line", "strokeWidth": 1.3},
        "encoding": {
          "x": {
            "field": "t", "type": "quantitative",
            "scale": {"domain": [-1.5, 31.75], "nice": false, "zero": false},
            "axis": {"values": [0, 10, 20, 30], "tickCount": 10, "grid": false, "title": null, "labelFontSize": 15.5, "labelColor": "#111", "tickSize": 5, "tickColor": "#222", "domainColor": "#222", "labelPadding": 3}
          },
          "y": {
            "field": "v", "type": "quantitative",
            "scale": {"domain": [-0.1, 1.161], "nice": false, "zero": false},
            "axis": {
              "values": [0, 0.2, 0.4, 0.6, 0.8], "tickCount": 10, "title": null, "grid": true,
              "gridColor": "#e3ebee", "gridWidth": 1.2,
              "labelExpr": "datum.value == 0 ? '0' : '.' + round(datum.value * 10)",
              "labelAngle": -90, "labelAlign": "center", "labelBaseline": "bottom",
              "labelOverlap": false, "labelBound": false, "labelFlush": false,
              "labelFontSize": 12, "labelColor": "#111", "tickSize": 5, "tickColor": "#222", "domainColor": "#222", "labelPadding": 3
            }
          },
          "color": {
            "field": "city", "type": "nominal",
            "scale": {"domain": ["Brussels", "Lille"], "range": ["#34597c", "#9c434b"]},
            "legend": {"title": null}
          }
        }
      },
      {
        "transform": [{"filter": "datum.t == 1"}],
        "mark": {"type": "rect", "fill": "white", "stroke": "#333", "strokeWidth": 1},
        "encoding": {
          "x": {"datum": -1.5, "type": "quantitative"},
          "x2": {"datum": 31.75},
          "y": {"datum": 0.952, "type": "quantitative"},
          "y2": {"datum": 1.155}
        }
      },
      {
        "transform": [{"filter": "datum.t == 1"}],
        "mark": {"type": "text", "fontSize": 15.2, "color": "#000", "baseline": "middle", "align": "center"},
        "encoding": {
          "x": {"datum": 15.125, "type": "quantitative"},
          "y": {"datum": 1.052, "type": "quantitative"},
          "text": {"field": "label"}
        }
      }
    ]
  },
  "config": {
    "font": "Liberation Sans",
    "view": {"stroke": null},
    "legend": {
      "orient": "none",
      "legendX": 250,
      "legendY": 696,
      "direction": "horizontal",
      "symbolType": "M-1,0H9",
      "symbolSize": 441,
      "symbolStrokeWidth": 2,
      "labelFontSize": 28,
      "labelColor": "#000",
      "labelOffset": 96,
      "columnPadding": 44,
      "padding": 12,
      "strokeColor": "#222"
    }
  }
}
